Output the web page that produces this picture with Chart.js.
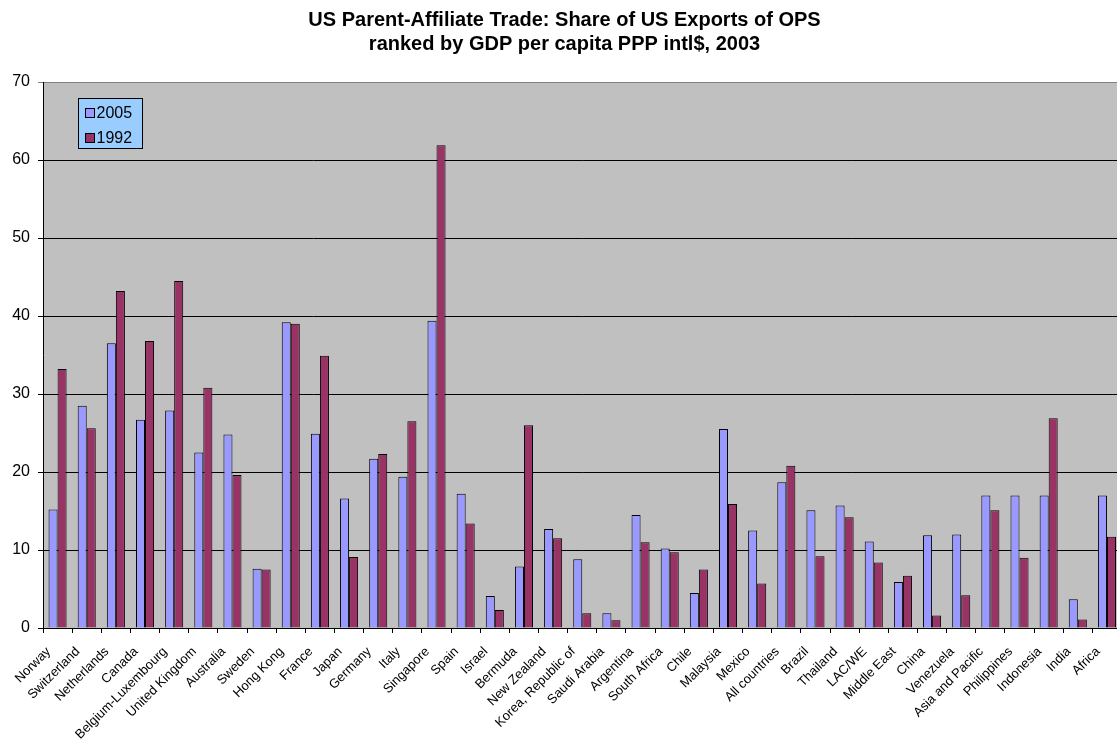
<!DOCTYPE html>
<html>
<head>
<meta charset="utf-8">
<script src="https://cdn.jsdelivr.net/npm/chart.js@4/dist/chart.umd.min.js"></script>
<style>
  html, body { margin: 0; padding: 0; overflow: hidden; background: #ffffff; }
  #wrap { width: 1129px; height: 740px; }
</style>
</head>
<body>
<div id="wrap"><canvas id="c" width="1129" height="740"></canvas></div>
<script>
const titleLines = ['US Parent-Affiliate Trade: Share of US Exports of OPS', 'ranked by GDP per capita PPP intl$, 2003'];
const categories = ['Norway', 'Switzerland', 'Netherlands', 'Canada', 'Belgium-Luxembourg', 'United Kingdom', 'Australia', 'Sweden', 'Hong Kong', 'France', 'Japan', 'Germany', 'Italy', 'Singapore', 'Spain', 'Israel', 'Bermuda', 'New Zealand', 'Korea, Republic of', 'Saudi Arabia', 'Argentina', 'South Africa', 'Chile', 'Malaysia', 'Mexico', 'All countries', 'Brazil', 'Thailand', 'LAC/WE', 'Middle East', 'China', 'Venezuela', 'Asia and Pacific', 'Philippines', 'Indonesia', 'India', 'Africa'];
const seriesNames = ['2005', '1992'];
const share2005 = [15.2, 28.5, 36.5, 26.7, 27.9, 22.5, 24.8, 7.6, 39.2, 24.9, 16.6, 21.7, 19.4, 39.4, 17.2, 4.1, 7.9, 12.7, 8.8, 1.9, 14.5, 10.2, 4.5, 25.5, 12.5, 18.7, 15.1, 15.7, 11.1, 5.9, 11.9, 12.0, 17.0, 17.0, 17.0, 3.7, 17.0];
const share1992 = [33.2, 25.6, 43.2, 36.8, 44.5, 30.8, 19.6, 7.5, 39.0, 34.9, 9.1, 22.3, 26.5, 61.9, 13.4, 2.3, 26.0, 11.5, 1.9, 1.0, 11.0, 9.7, 7.5, 15.9, 5.7, 20.8, 9.2, 14.2, 8.4, 6.7, 1.6, 4.2, 15.1, 9.0, 26.9, 1.1, 11.7];
const yTicks = [0, 10, 20, 30, 40, 50, 60, 70];

const FONT = '"Liberation Sans", Arial, Helvetica, sans-serif';
const colors = ['#9999FF', '#993366'];

const plotBg = {
  id: 'plotBg',
  beforeDraw(chart) {
    const a = chart.chartArea, ctx = chart.ctx;
    ctx.save();
    ctx.fillStyle = '#C0C0C0';
    ctx.fillRect(a.left, a.top, a.right - a.left, a.bottom - a.top);
    ctx.restore();
  },
  afterDraw(chart) {
    // legend box drawn inside the plot
    const ctx = chart.ctx;
    const x = 78.5, y = 98.5, w = 64, h = 50;
    ctx.save();
    ctx.fillStyle = '#99CCFF';
    ctx.fillRect(x, y, w, h);
    ctx.strokeStyle = '#000000';
    ctx.lineWidth = 1;
    ctx.strokeRect(x, y, w, h);
    ctx.font = '16px ' + FONT;
    ctx.textBaseline = 'middle';
    ctx.textAlign = 'left';
    chart.data.datasets.forEach((ds, i) => {
      const cy = 113 + i * 25;
      ctx.fillStyle = ds.backgroundColor;
      ctx.fillRect(85.5, cy - 4.5, 9, 9);
      ctx.strokeStyle = '#000';
      ctx.strokeRect(85.5, cy - 4.5, 9, 9);
      ctx.fillStyle = '#000';
      ctx.fillText(ds.label, 96.5, cy + 0.5);
    });
    ctx.restore();
  }
};

new Chart(document.getElementById('c'), {
  type: 'bar',
  data: {
    labels: categories,
    datasets: [
      { label: seriesNames[0], data: share2005, backgroundColor: colors[0], borderColor: '#000000', borderWidth: 1, borderSkipped: 'start' },
      { label: seriesNames[1], data: share1992, backgroundColor: colors[1], borderColor: '#000000', borderWidth: 1, borderSkipped: 'start' }
    ]
  },
  options: {
    responsive: false,
    animation: false,
    devicePixelRatio: 1,
    layout: { padding: { left: 0, right: 0, top: 0, bottom: 0 } },
    datasets: { bar: { categoryPercentage: 0.62, barPercentage: 1.0 } },
    plugins: {
      legend: { display: false },
      tooltip: { enabled: false },
      title: {
        display: true,
        text: titleLines,
        color: '#000000',
        font: { family: FONT, size: 20, weight: 'bold', lineHeight: 1.2 },
        padding: { top: 8, bottom: 26 }
      }
    },
    scales: {
      x: {
        type: 'category',
        offset: true,
        afterFit(s) { s.height = 112; },
        grid: { display: true, drawOnChartArea: false, drawTicks: true, offset: true, tickLength: 5, color: '#000000', lineWidth: 1 },
        border: { display: true, color: '#000000', width: 1 },
        ticks: { autoSkip: false, minRotation: 45, maxRotation: 45, color: '#000000', padding: 11, labelOffset: -9, font: { family: FONT, size: 13 } }
      },
      y: {
        min: 0,
        max: 70,
        afterFit(s) { s.width = 43; },
        afterBuildTicks(s) { s.ticks = yTicks.map(v => ({ value: v })); },
        grid: {
          color: (c) => (c.tick && c.tick.value === 70 ? '#808080' : '#000000'),
          lineWidth: 1, tickLength: 5, drawTicks: true
        },
        border: { display: true, color: '#000000', width: 1 },
        ticks: { color: '#000000', padding: 8, font: { family: FONT, size: 16 } }
      }
    }
  },
  plugins: [plotBg]
});
</script>
</body>
</html>
